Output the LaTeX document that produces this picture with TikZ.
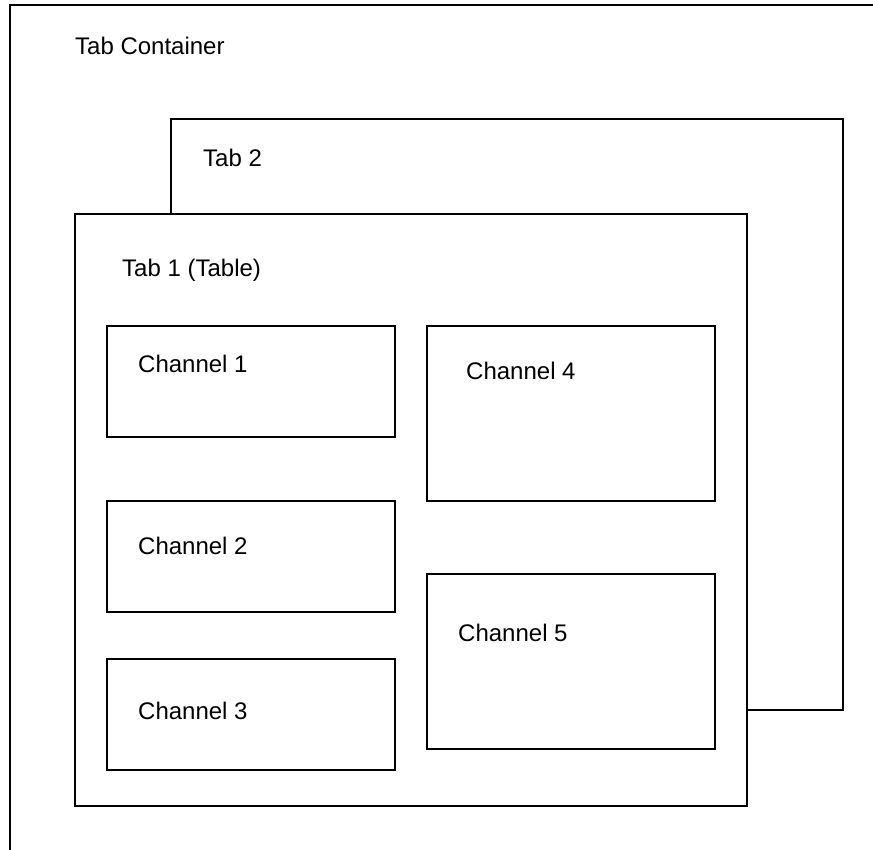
\documentclass[tikz,border=0pt]{standalone}
\usepackage{fontspec}
\setmainfont{Liberation Sans}
\usetikzlibrary{positioning}

\tikzset{
  tabbox/.style={draw, line width=2.2pt, fill=white, anchor=north west, inner sep=0pt},
  chanbox/.style={draw, line width=2.2pt, anchor=north west, inner sep=0pt,
    minimum width=288pt},
  boxlabel/.style={anchor=west, inner sep=0pt, font=\fontsize{24}{28}\selectfont}
}

\begin{document}
\begin{tikzpicture}[x=1pt,y=-1pt]
   \clip (0,0) rectangle (873,849);
   % outer container runs off the page
   \draw[line width=2.2pt] (10,5) rectangle (890,870);
   \node[boxlabel] (lcont) at (75,46) {Tab Container};

   % tabs
   \node[tabbox, minimum width=672pt, minimum height=591pt] (tab2) at (170,118) {};
   \node[boxlabel] (ltab2) at (203,158) {Tab 2};
   \node[tabbox, minimum width=672pt, minimum height=592pt] (tab1) at (74,213) {};
   \node[boxlabel] (ltab1) at (122,270) {Tab 1 (Table)};

   % channels
   \node[chanbox, minimum height=111pt] (ch1) at (106,325) {};
   \node[chanbox, minimum height=111pt] (ch2) at (106,500) {};
   \node[chanbox, minimum height=111pt] (ch3) at (106,658) {};
   \node[chanbox, minimum height=175pt] (ch4) at (426,325) {};
   \node[chanbox, minimum height=175pt] (ch5) at (426,573) {};

   \node[boxlabel] (lch1) at (138,364) {Channel 1};
   \node[boxlabel] (lch2) at (138,546) {Channel 2};
   \node[boxlabel] (lch3) at (138,711) {Channel 3};
   \node[boxlabel] (lch4) at (466,371) {Channel 4};
   \node[boxlabel] (lch5) at (458,633) {Channel 5};
\end{tikzpicture}
\end{document}
